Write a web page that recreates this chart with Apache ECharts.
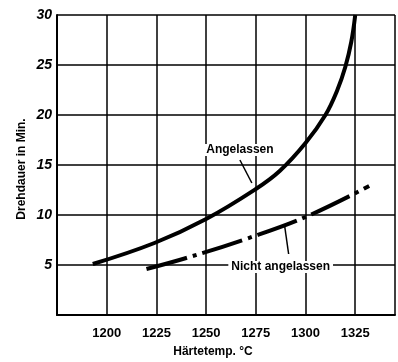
<!DOCTYPE html>
<html><head><meta charset="utf-8">
<script src="https://cdn.jsdelivr.net/npm/echarts@6/dist/echarts.min.js"></script>
<style>html,body{margin:0;padding:0;background:#fff}#c{width:398px;height:362px}</style>
</head><body><div id="c"></div>
<script>
// Data
const angelassen = [[1193,5.1],[1224,7.2],[1250,9.6],[1275,12.6],[1287,14.4],[1300,17.2],[1310,20.0],[1316,22.5],[1320,24.8],[1323,27.3],[1325,30]];
const nichtAngelassen = [[1220,4.6],[1240,5.7],[1270,7.6],[1300,9.8],[1332,12.9]];
const xTicks = [1200,1225,1250,1275,1300,1325];
const yTicks = [5,10,15,20,25,30];
const xTitle = 'Härtetemp. °C';
const yTitle = 'Drehdauer in Min.';
const labelA = {text:'Angelassen', at:[1267,16.5], lead:[[1267,15.5],[1273,13.2]]};
const labelN = {text:'Nicht angelassen', at:[1287.5,4.8], lead:[[1289.5,8.9],[1291.5,6.1]]};

const FONT = "'Liberation Sans',Arial,sans-serif";
const chart = echarts.init(document.getElementById('c'));
chart.setOption({
  animation:false,
  backgroundColor:'#fff',
  grid:{left:57,top:15,right:0,bottom:47},
  xAxis:{type:'value',min:1175,max:1345,interval:25,
    axisLine:{lineStyle:{color:'#000',width:2}},axisTick:{show:false},
    splitLine:{lineStyle:{color:'#000',width:1.5}},
    axisLabel:{margin:12,color:'#000',fontFamily:FONT,fontWeight:'bold',fontSize:13,
      formatter:v=>xTicks.includes(v)?String(v):''}},
  yAxis:{type:'value',min:0,max:30,interval:5,
    axisLine:{lineStyle:{color:'#000',width:2}},axisTick:{show:false},
    splitLine:{lineStyle:{color:'#000',width:1.5}},
    axisLabel:{margin:5,color:'#000',fontFamily:FONT,fontWeight:'bold',fontStyle:'italic',fontSize:14,
      formatter:v=>yTicks.includes(v)?String(v):''}},
  series:[
    {type:'line',data:angelassen,smooth:0.4,symbol:'none',lineStyle:{color:'#000',width:4},z:5},
    {type:'line',data:nichtAngelassen,smooth:0.4,symbol:'none',lineStyle:{color:'#000',width:4,type:[42,6,4,6]},z:5}
  ]
});
function px(p){return chart.convertToPixel({gridIndex:0},p);}
function annot(l){
  const a=px(l.lead[0]),b=px(l.lead[1]),c=px(l.at);
  return [
    {type:'line',shape:{x1:a[0],y1:a[1],x2:b[0],y2:b[1]},style:{stroke:'#000',lineWidth:1.5},z:10},
    {type:'text',x:c[0],y:c[1],style:{text:l.text,fill:'#000',font:"bold 12px "+FONT,align:'center',verticalAlign:'middle',backgroundColor:'#fff',padding:[0,3]},z:10}
  ];
}
chart.setOption({graphic:[
  ...annot(labelA),...annot(labelN),
  {type:'text',x:213,y:352,style:{text:xTitle,fill:'#000',font:"bold 12px "+FONT,align:'center',verticalAlign:'middle'}},
  {type:'text',x:22,y:169,rotation:Math.PI/2,style:{text:yTitle,fill:'#000',font:"bold 12px "+FONT,align:'center',verticalAlign:'middle'}}
]});
</script></body></html>
